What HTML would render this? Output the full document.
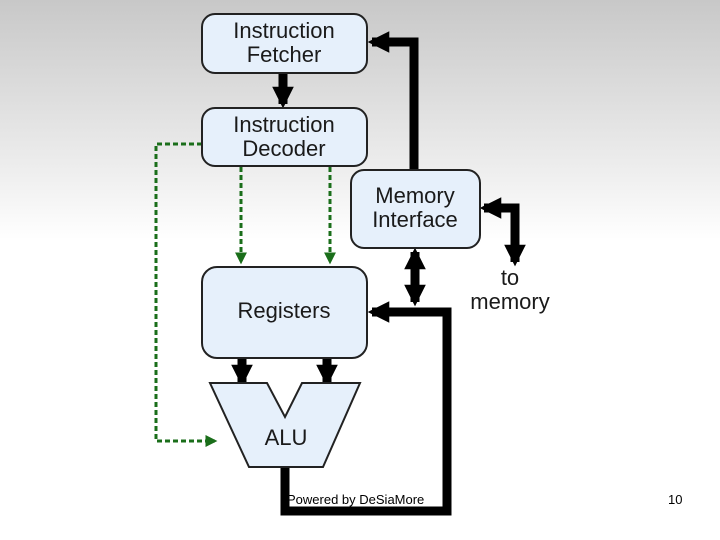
<!DOCTYPE html>
<html><head><style>
html,body{margin:0;padding:0;}
body{width:720px;height:540px;overflow:hidden;background:linear-gradient(#c8c8c8 0px,#f0f0f0 180px,#fff 240px,#fff 540px);}
svg{position:absolute;left:0;top:0;}
</style></head><body>
<svg width="720" height="540" viewBox="0 0 720 540" font-family="Liberation Sans, sans-serif">
<defs>
<marker id="bh" viewBox="0 0 10 10" refX="8" refY="5" markerWidth="2.4" markerHeight="2.4" orient="auto"><path d="M0,0L10,5L0,10z" fill="#000"/></marker>
<marker id="gh" viewBox="0 0 10 10" refX="8" refY="5" markerWidth="4" markerHeight="4" orient="auto"><path d="M0,0L10,5L0,10z" fill="#1a6e1a"/></marker>
</defs>
<g fill="none" stroke="#1a6e1a" stroke-width="3" stroke-dasharray="5,3">
<polyline points="202,144 156,144 156,441 215,441" marker-end="url(#gh)"/>
<line x1="241" y1="167" x2="241" y2="262" marker-end="url(#gh)"/>
<line x1="330" y1="167" x2="330" y2="262" marker-end="url(#gh)"/>
</g>
<g fill="none" stroke="#000" stroke-width="9">
<line x1="283" y1="73" x2="283" y2="104" marker-end="url(#bh)"/>
<polyline points="414,170 414,42 372,42" marker-end="url(#bh)"/>
<polyline points="515,220 515,208 484,208" marker-end="url(#bh)" stroke-linejoin="miter"/>
<line x1="515" y1="212" x2="515" y2="262" marker-end="url(#bh)"/>
<line x1="415" y1="275" x2="415" y2="252" marker-end="url(#bh)"/>
<line x1="415" y1="275" x2="415" y2="302" marker-end="url(#bh)"/>
<polyline points="285,467 285,511 447,511 447,312 372,312" marker-end="url(#bh)"/>
<line x1="242" y1="358" x2="242" y2="382" marker-end="url(#bh)"/>
<line x1="327" y1="358" x2="327" y2="382" marker-end="url(#bh)"/>
</g>
<g fill="#e6f0fb" stroke="#222" stroke-width="2">
<rect x="202" y="14" width="165" height="59" rx="13"/>
<rect x="202" y="108" width="165" height="58" rx="13"/>
<rect x="351" y="170" width="129" height="78" rx="13"/>
<rect x="202" y="267" width="165" height="91" rx="15"/>
<path d="M210,383 L267,383 L285,417 L302,383 L360,383 L323,467 L249,467 Z"/>
</g>
<g font-size="22" fill="#1a1a1a" text-anchor="middle">
<text x="284" y="38">Instruction</text>
<text x="284" y="62">Fetcher</text>
<text x="284" y="132">Instruction</text>
<text x="284" y="156">Decoder</text>
<text x="415" y="203">Memory</text>
<text x="415" y="227">Interface</text>
<text x="284" y="318">Registers</text>
<text x="286" y="445">ALU</text>
<text x="510" y="285">to</text>
<text x="510" y="309">memory</text>
</g>
<text x="287" y="504" font-size="13" fill="#000">Powered by DeSiaMore</text>
<text x="668" y="504" font-size="13" fill="#000">10</text>
</svg>
</body></html>
